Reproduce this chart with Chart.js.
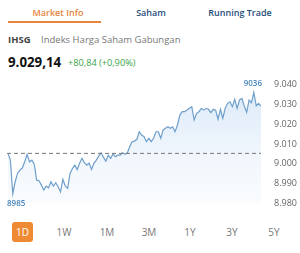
<!DOCTYPE html>
<html>
<head>
<meta charset="utf-8">
<script src="https://cdn.jsdelivr.net/npm/chart.js@4.4.1/dist/chart.umd.min.js"></script>
<style>
  body { margin: 0; width: 300px; height: 253px; background: #fff; font-family: "Open Sans", sans-serif; position: relative; overflow: hidden; }
  .tab { position: absolute; top: 6px; font-size: 9px; font-weight: 600; color: #1f4e79; transform: translateX(-50%); white-space: nowrap; }
  .tab.on { color: #e8843c; }
  #uline { position: absolute; left: 8px; top: 21px; width: 93px; height: 2px; background: #e8843c; }
  #code { position: absolute; left: 8px; top: 33px; font-size: 9.5px; font-weight: 700; color: #444; }
  #name { position: absolute; left: 41px; top: 33px; font-size: 9.5px; color: #777; }
  #price { position: absolute; left: 8px; top: 53px; font-size: 13.3px; font-weight: 700; color: #111; }
  #chg { position: absolute; left: 68px; top: 56px; font-size: 9.2px; color: #3aa54a; }
  #wrap { position: absolute; left: 0; top: 70px; width: 300px; height: 144px; }
  .per { position: absolute; top: 225px; font-size: 10px; color: #777; transform: translateX(-50%); }
  #d1 { position: absolute; left: 12px; top: 222px; width: 21px; height: 20px; background: #ef8a34; border-radius: 3px; color: #fff; font-size: 10px; text-align: center; line-height: 20px; }
</style>
</head>
<body>
<div class="tab on" style="left:58px">Market Info</div>
<div class="tab" style="left:151px">Saham</div>
<div class="tab" style="left:240px">Running Trade</div>
<div id="uline"></div>
<div id="code">IHSG</div>
<div id="name">Indeks Harga Saham Gabungan</div>
<div id="price">9.029,14</div>
<div id="chg">+80,84 (+0,90%)</div>
<div id="wrap"><canvas id="grafik"></canvas></div>
<div id="d1">1D</div>
<div class="per" style="left:64px">1W</div>
<div class="per" style="left:107px">1M</div>
<div class="per" style="left:149px">3M</div>
<div class="per" style="left:190px">1Y</div>
<div class="per" style="left:232px">3Y</div>
<div class="per" style="left:274px">5Y</div>
<script>
const harga = [
  9005.3, 9001.9, 8985.0, 8991.0, 8995.2, 8996.9, 8997.9, 9001.1, 9004.8, 9001.1,
  9001.9, 8999.9, 8991.8, 8991.5, 8989.3, 8986.8, 8988.8, 8988.0, 8991.0, 8988.8,
  8990.5, 8988.5, 8985.9, 8992.2, 8988.8, 8987.7, 8995.2, 8997.7, 8999.4, 8997.2,
  9000.3, 9002.8, 9000.6, 8999.4, 9000.3, 8997.2, 9000.3, 9001.9, 9003.9, 9005.6,
  9003.3, 9001.4, 9004.4, 9002.8, 9005.0, 9003.6, 9004.4, 9004.4, 9005.6, 9004.8,
  9005.6, 9008.6, 9011.2, 9011.5, 9012.4, 9016.2, 9014.5, 9013.7, 9011.2, 9012.9,
  9011.2, 9012.9, 9016.2, 9016.2, 9012.9, 9017.1, 9017.9, 9018.7, 9017.9, 9018.7,
  9016.2, 9019.6, 9024.6, 9026.3, 9026.3, 9027.1, 9028.0, 9028.8, 9022.1, 9025.5,
  9026.3, 9028.0, 9027.1, 9028.0, 9027.5, 9025.8, 9027.5, 9027.1, 9022.5, 9027.5,
  9023.0, 9028.0, 9030.5, 9031.3, 9028.8, 9032.5, 9028.0, 9032.2, 9033.0, 9029.2,
  9026.0, 9032.2, 9030.8, 9036.0, 9029.3, 9030.5, 9029.1
];
const waktu = harga.map((_, i) => i);
const pembukaan = 9005.3;
const yMin = 8980;
const yMax = 9040;

// garis putus-putus + label min/max
const ekstra = {
  id: "ekstra",
  afterDatasetsDraw(chart) {
    const { ctx, chartArea, scales } = chart;
    const y = scales.y;
    ctx.save();
    const yo = y.getPixelForValue(pembukaan);
    ctx.strokeStyle = "#777";
    ctx.lineWidth = 1;
    ctx.setLineDash([4, 3]);
    ctx.beginPath();
    ctx.moveTo(chartArea.left - 1, yo);
    ctx.lineTo(chartArea.right, yo);
    ctx.stroke();
    ctx.setLineDash([]);

    let iMin = 0, iMax = 0;
    harga.forEach((v, i) => {
      if (v < harga[iMin]) iMin = i;
      if (v > harga[iMax]) iMax = i;
    });
    ctx.fillStyle = "#4a86bd";
    ctx.font = "600 8px 'Open Sans'";
    ctx.textAlign = "left";
    ctx.textBaseline = "middle";
    ctx.fillText(Math.round(harga[iMin]), chartArea.left - 1, y.getPixelForValue(harga[iMin]) + 10);
    ctx.textAlign = "right";
    ctx.fillText(Math.round(harga[iMax]), chartArea.right + 1, y.getPixelForValue(harga[iMax]) - 9);
    ctx.restore();
  },
};

const g_ihsg = document.getElementById("grafik");

new Chart(g_ihsg, {
  type: "line",
  data: {
    labels: waktu,
    datasets: [
      {
        data: harga,
        borderColor: "#6f9fcb",
        borderWidth: 1.2,
        pointRadius: 0,
        tension: 0,
        fill: "start",
        backgroundColor: (c) => {
          const area = c.chart.chartArea;
          if (!area) return "rgba(210,228,246,0.6)";
          const g = c.chart.ctx.createLinearGradient(0, area.top, 0, area.bottom);
          g.addColorStop(0, "rgba(205,225,246,0.75)");
          g.addColorStop(1, "rgba(242,247,252,0.4)");
          return g;
        },
      },
    ],
  },
  options: {
    responsive: true,
    maintainAspectRatio: false,
    animation: false,
    layout: { padding: { top: 14.5, bottom: 1, left: 8, right: 0 } },
    plugins: { legend: { display: false }, tooltip: { enabled: false } },
    scales: {
      x: {
        display: false,
        offset: false,
      },
      y: {
        position: "right",
        min: yMin,
        max: yMax,
        grid: { display: false },
        border: { display: false },
        afterFit: (s) => { s.width = 39; },
        ticks: {
          stepSize: 10,
          padding: 5,
          color: "#666",
          font: { family: "Open Sans", size: 9 },
          callback: (v) => (v / 1000).toFixed(3),
        },
      },
    },
  },
  plugins: [ekstra],
});
</script>
</body>
</html>
